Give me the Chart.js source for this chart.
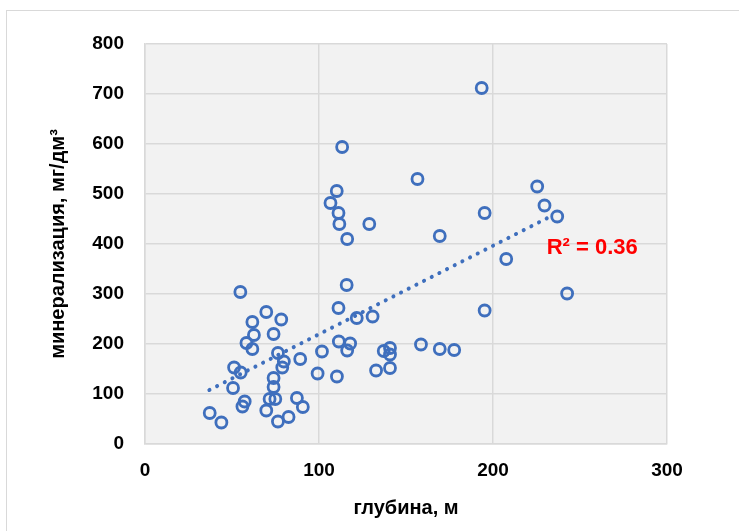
<!DOCTYPE html>
<html>
<head>
<meta charset="utf-8">
<script src="https://cdn.jsdelivr.net/npm/chart.js@4.4.1/dist/chart.umd.min.js"></script>
<style>
  html, body { margin: 0; padding: 0; background: #fff; overflow: hidden; }
  #wrap { position: relative; width: 739px; height: 531px; }
  #frame { position: absolute; left: 6px; top: 10px; right: -4px; bottom: -4px; border: 1px solid #d9d9d9; }
  canvas { position: absolute; left: 0; top: 0; }
</style>
</head>
<body>
<div id="wrap">
  <div id="frame"></div>
  <canvas id="chart" width="739" height="531"></canvas>
</div>
<script>
// depth of each well, m
const depthM = [
  54.8, 69.7, 78.3, 61.7, 62.6, 73.9, 58.3, 61.7, 76.4, 79.8,
  78.9, 89.2, 101.7, 99.2, 51.2, 55, 50.6, 73.9, 73.9, 71.6,
  74.9, 57.3, 56, 69.7, 87.3, 90.7, 82.5, 76.4, 37.2, 43.9,
  111.2, 111.4, 110.3, 115.9, 121.7, 130.8, 195.2, 117.9, 116.2, 137.2,
  140.8, 140.8, 158.6, 169.4, 177.7, 132.8, 140.8, 193.5, 113.3, 156.6,
  225.4, 110.2, 106.6, 229.6, 111.2, 195.2, 236.9, 128.9, 111.7, 116.2,
  169.4, 207.6, 242.6
];
// mineralization, mg/dm3
const mineralization = [
  304, 264, 249, 244, 218, 220, 202, 190, 182, 165,
  153, 170, 185, 141, 153, 143, 112, 132, 114, 90,
  90, 85, 75, 67, 92, 74, 54, 45, 62, 43,
  272, 205, 135, 318, 252, 255, 267, 201, 187, 186,
  192, 179, 199, 190, 188, 147, 152, 712, 594, 530,
  515, 506, 482, 477, 462, 462, 455, 440, 440, 410,
  416, 370, 301
];
// linear trend, end points
const trendX = [37, 233];
const trendY = [108, 455];
const r2Label = "R\u00b2 = 0.36";
const r2At = [257, 392];

const xTicks = [0, 100, 200, 300];
const yTicks = [0, 100, 200, 300, 400, 500, 600, 700, 800];

const blue = "#3f6fbd";
const tickFont = { family: "Liberation Sans", weight: "bold", size: 19 };

const plotBg = {
  id: "plotBg",
  beforeDraw(chart) {
    const a = chart.chartArea, ctx = chart.ctx;
    ctx.save();
    ctx.fillStyle = "#f2f2f2";
    ctx.fillRect(a.left, a.top, a.right - a.left, a.bottom - a.top);
    ctx.restore();
  }
};

const r2Text = {
  id: "r2Text",
  afterDatasetsDraw(chart) {
    const ctx = chart.ctx;
    const x = chart.scales.x.getPixelForValue(r2At[0]);
    const y = chart.scales.y.getPixelForValue(r2At[1]);
    ctx.save();
    ctx.font = "bold 22px 'Liberation Sans'";
    ctx.fillStyle = "#ff0000";
    ctx.textAlign = "center";
    ctx.textBaseline = "middle";
    ctx.fillText(r2Label, x, y);
    ctx.restore();
  }
};

new Chart(document.getElementById("chart").getContext("2d"), {
  type: "scatter",
  data: {
    datasets: [
      {
        type: "line",
        label: "trend",
        data: trendX.map((x, i) => ({ x, y: trendY[i] })),
        borderColor: blue,
        borderWidth: 4,
        borderDash: [0.1, 8.5],
        borderCapStyle: "round",
        pointRadius: 0,
        fill: false,
        order: 0
      },
      {
        label: "wells",
        data: depthM.map((x, i) => ({ x, y: mineralization[i] })),
        pointStyle: "circle",
        pointRadius: 5.5,
        pointBorderWidth: 2.8,
        borderColor: blue,
        backgroundColor: "rgba(0,0,0,0)",
        order: 1
      }
    ]
  },
  options: {
    responsive: false,
    animation: false,
    layout: { padding: { left: 0, top: 44, right: 72, bottom: 0 } },
    plugins: { legend: { display: false }, tooltip: { enabled: false } },
    scales: {
      x: {
        type: "linear",
        min: 0, max: 300,
        afterBuildTicks(s) { s.ticks = xTicks.map(v => ({ value: v })); },
        afterFit(s) { s.height = 87; },
        ticks: { color: "#000", font: tickFont, padding: 15, maxRotation: 0 },
        grid: { color: "#d9d9d9", lineWidth: 1.5, drawTicks: false },
        border: { color: "#d9d9d9", width: 1.5 },
        title: {
          display: true, text: "глубина, м", color: "#000",
          font: { family: "Liberation Sans", weight: "bold", size: 20 },
          padding: { top: 0, bottom: 11 }
        }
      },
      y: {
        type: "linear",
        min: 0, max: 800,
        afterBuildTicks(s) { s.ticks = yTicks.map(v => ({ value: v })); },
        afterFit(s) { s.width = 145; },
        ticks: { color: "#000", font: tickFont, padding: 21 },
        grid: { color: "#d9d9d9", lineWidth: 1.5, drawTicks: false },
        border: { color: "#d9d9d9", width: 1.5 },
        title: {
          display: true, text: "минерализация, мг/дм\u00b3", color: "#000",
          font: { family: "Liberation Sans", weight: "bold", size: 20 },
          padding: { top: 46, bottom: 0 }
        }
      }
    }
  },
  plugins: [plotBg, r2Text]
});
</script>
</body>
</html>
